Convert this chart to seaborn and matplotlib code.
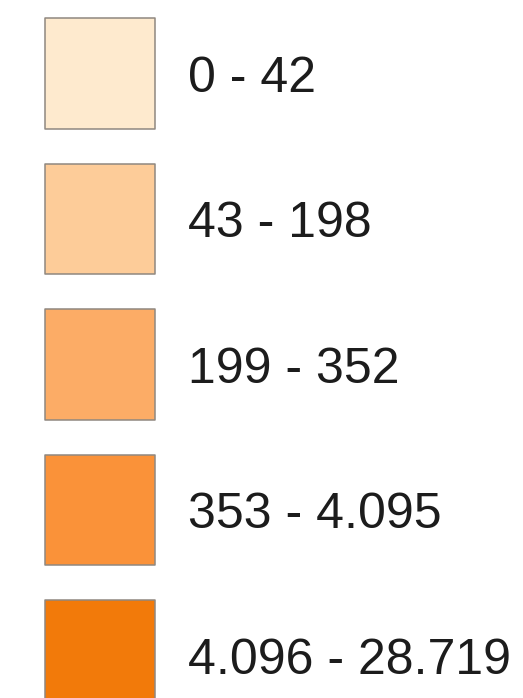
import matplotlib
matplotlib.use("Agg")
import matplotlib.pyplot as plt
import seaborn as sns
import pandas as pd

# Class breaks of the choropleth legend
class_labels = ["0 - 42", "43 - 198", "199 - 352", "353 - 4.095", "4.096 - 28.719"]
class_colors = ["#FEEACE", "#FDCC99", "#FCAC66", "#FA9239", "#F27A0A"]

sns.set_theme(style="white")
plt.rcParams["font.family"] = ["Liberation Sans", "DejaVu Sans"]

df = pd.DataFrame({
    "klasse": class_labels,
    "pos": range(len(class_labels)),
    "x": [0] * len(class_labels),
})

fig = plt.figure(figsize=(5.23, 6.98), dpi=100)
ax = fig.add_axes([0, 0, 1, 1])

# one swatch per class (square markers ~111 px wide)
sns.scatterplot(
    data=df, x="x", y="pos", hue="klasse", palette=class_colors,
    hue_order=class_labels, marker="s", s=79.5 ** 2,
    edgecolor="#8f8880", linewidth=1.1, legend=False, ax=ax,
)

for _, row in df.iterrows():
    ax.text(0.885, row["pos"] + 0.125, row["klasse"], fontsize=36,
            color="#1c1c1c", ha="left", va="baseline")

# one unit = 100 px horizontally, 145.5 px vertically
ax.set_xlim(-1.0, 4.23)
ax.set_ylim(4.292, -0.505)
ax.set_axis_off()

fig.savefig("out.png", dpi=100, facecolor="white")
